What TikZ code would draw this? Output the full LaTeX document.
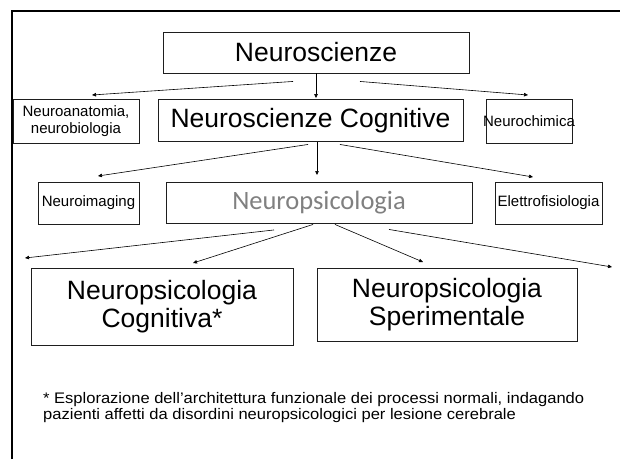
\documentclass[tikz,border=0pt]{standalone}
\usepackage{fontspec}
\setmainfont{Liberation Sans}
\newfontfamily\widesans[FakeStretch=1.08]{Liberation Sans}
\newfontfamily\calibrisans{Carlito}
\usetikzlibrary{arrows.meta,calc}
\definecolor{boxline}{RGB}{30,30,30}
\definecolor{palegray}{RGB}{128,128,128}

\begin{document}
\begin{tikzpicture}[x=1pt, y=-1pt,
  box/.style={draw=boxline, line width=0.9pt, inner sep=0pt, align=center},
  bigtext/.style={font=\fontsize{26.5}{27.5}\selectfont},
  smalltext/.style={font=\fontsize{15}{17}\selectfont},
  link/.style={-{Triangle[length=4pt,width=3.5pt]}, line width=0.6pt, draw=black}]

% canvas and frame
\fill[white] (0,0) rectangle (620,459);
\useasboundingbox (0,0) rectangle (620,459);
\draw[line width=2pt] (12,459) -- (12,11) -- (620,11);

% level 1
\node[box, bigtext, minimum width=306pt, minimum height=41pt] (ns) at (316,52.5) {Neuroscienze};

% level 2
\node[box, smalltext, minimum width=126pt, minimum height=44pt] (na) at (76,121) {Neuroanatomia,\\neurobiologia};
\node[box, bigtext, minimum width=305pt, minimum height=42pt] (nc) at (310.5,120.5) {Neuroscienze Cognitive};
\node[box, smalltext, minimum width=86pt, minimum height=44pt] (nch) at (529,121) {\makebox[0pt]{Neurochimica}};

% level 3
\node[box, smalltext, minimum width=101pt, minimum height=42pt] (ni) at (88.5,203) {Neuroimaging};
\node[box, minimum width=306pt, minimum height=41pt, text=palegray,
      font=\calibrisans\fontsize{26.5}{30}\selectfont] (np) at (319,202.5) {Neuropsicologia};
\node[box, smalltext, minimum width=107pt, minimum height=42pt] (ef) at (548.5,203) {Elettrofisiologia};

% level 4
\node[box, bigtext, minimum width=262pt, minimum height=77pt] (npc) at (162,306.5) {Neuropsicologia\\Cognitiva*};
\node[box, bigtext, minimum width=260pt, minimum height=73pt] (nps) at (447,304.5) {Neuropsicologia\\Sperimentale};

% free arrow ends
\coordinate (e1) at (92,95);
\coordinate (e3) at (528,95);
\coordinate (e4) at (98,176);
\coordinate (e5) at (317,175);
\coordinate (e6) at (533,177);
\coordinate (e7) at (25,258);
\coordinate (e8) at (193,263);
\coordinate (e9) at (423,262);
\coordinate (e10) at (612,267);

% arrows from Neuroscienze
\draw[link] ($(ns.south)+(-23,8)$) -- (e1);
\draw[link] (ns.south) -- ($(ns.south |- nc.north)+(0,-1)$);
\draw[link] ($(ns.south)+(44,8)$) -- (e3);

% arrows from Neuroscienze Cognitive
\draw[link] ($(nc.south)+(-2.5,2.5)$) -- (e4);
\draw[link] ($(nc.south)+(6.5,0)$) -- (e5);
\draw[link] ($(nc.south)+(29.5,2.5)$) -- (e6);

% arrows from Neuropsicologia
\draw[link] ($(np.south)+(-45,6.5)$) -- (e7);
\draw[link] ($(np.south)+(-6,1)$) -- (e8);
\draw[link] ($(np.south)+(16,1)$) -- (e9);
\draw[link] ($(np.south)+(70,6)$) -- (e10);

% footnote (base anchor sits on the last line)
\node[anchor=base west, inner sep=0pt, align=left,
      font=\widesans\fontsize{15.3}{14}\selectfont] (fn) at (43,419)
  {* Esplorazione dell’architettura funzionale dei processi normali, indagando\\
   pazienti affetti da disordini neuropsicologici per lesione cerebrale};
\end{tikzpicture}
\end{document}
